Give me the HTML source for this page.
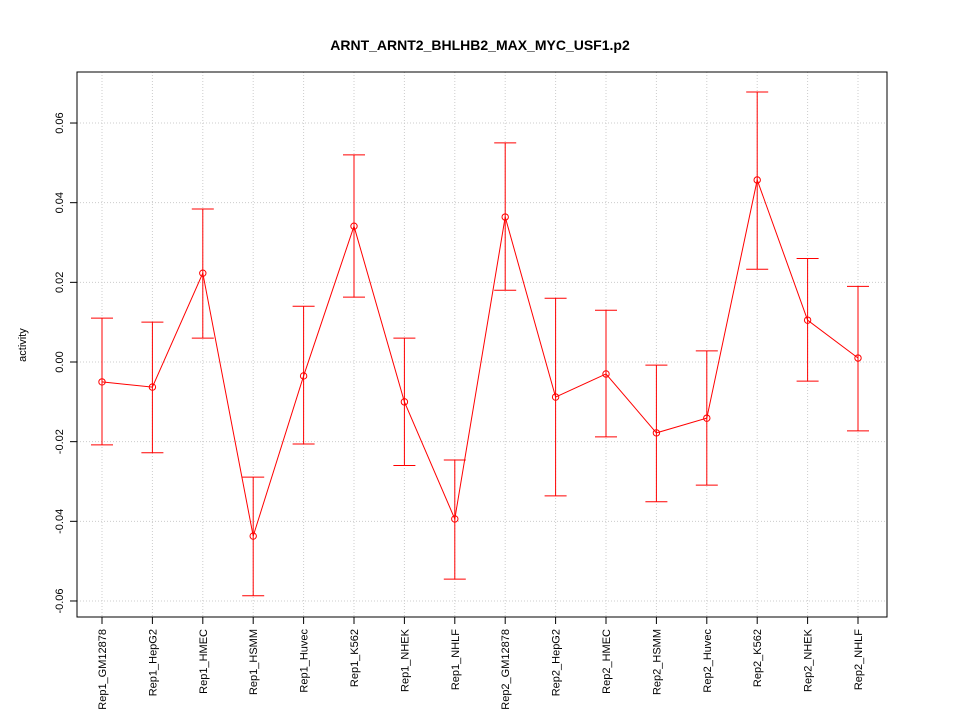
<!DOCTYPE html>
<html><head><meta charset="utf-8"><style>body{margin:0;background:#fff}svg{display:block;font-family:"Liberation Sans",sans-serif}</style></head>
<body>
<svg id="chart" width="960" height="720"></svg>
<script>
const categories=["Rep1_GM12878","Rep1_HepG2","Rep1_HMEC","Rep1_HSMM","Rep1_Huvec","Rep1_K562","Rep1_NHEK","Rep1_NHLF","Rep2_GM12878","Rep2_HepG2","Rep2_HMEC","Rep2_HSMM","Rep2_Huvec","Rep2_K562","Rep2_NHEK","Rep2_NHLF"];
const values=[-0.005,-0.0063,0.0223,-0.0437,-0.0035,0.0341,-0.010,-0.0394,0.0364,-0.0088,-0.003,-0.0178,-0.0141,0.0457,0.0105,0.001];
const upper=[0.011,0.010,0.0384,-0.0289,0.014,0.052,0.006,-0.0246,0.055,0.016,0.013,-0.0008,0.0028,0.0678,0.026,0.019];
const lower=[-0.0208,-0.0228,0.006,-0.0587,-0.0206,0.0163,-0.026,-0.0545,0.018,-0.0336,-0.0188,-0.0351,-0.0309,0.0233,-0.0048,-0.0173];
const yTicks=[-0.06,-0.04,-0.02,0.00,0.02,0.04,0.06];
const yTickLabels=["-0.06","-0.04","-0.02","0.00","0.02","0.04","0.06"];
const svg=document.getElementById('chart');const NS="http://www.w3.org/2000/svg";
function mk(t,a,p){const e=document.createElementNS(NS,t);for(const k in a)e.setAttribute(k,a[k]);(p||svg).appendChild(e);return e;}
const L=77,R=887,T=72,B=617;
const x=i=>102+i*(858-102)/(categories.length-1);
const y=v=>362-v*3983;
let e;
e=mk('text',{x:480,y:50,'text-anchor':'middle','font-size':14,'font-weight':'bold'});e.textContent="ARNT_ARNT2_BHLHB2_MAX_MYC_USF1.p2";


yTicks.forEach((v,i)=>{
 e=mk('line',{x1:L,x2:R,y1:y(v),y2:y(v),stroke:'#ccc','stroke-dasharray':'1,2'});
 
 
 mk('line',{x1:L-7,x2:L,y1:y(v),y2:y(v),stroke:'#000'});
 e=mk('text',{x:L-14,y:y(v),'text-anchor':'middle','font-size':11,transform:`rotate(-90 ${L-14} ${y(v)})`});e.textContent=yTickLabels[i];
 
 
});
categories.forEach((c,i)=>{
 e=mk('line',{x1:x(i),x2:x(i),y1:T,y2:B,stroke:'#ccc','stroke-dasharray':'1,2'});
 
 
 mk('line',{x1:x(i),x2:x(i),y1:B,y2:B+7,stroke:'#000'});
 e=mk('text',{x:x(i)+4,y:B+12,'text-anchor':'end','font-size':11,transform:`rotate(-90 ${x(i)+4} ${B+12})`});e.textContent=c;
 
 
});
e=mk('rect',{x:L,y:T,width:R-L,height:B-T,fill:'none',stroke:'#000'});


e=mk('text',{x:26,y:345,'text-anchor':'middle','font-size':11,transform:'rotate(-90 26 345)'});e.textContent="activity";


e=mk('polyline',{points:values.map((v,i)=>x(i)+','+y(v)).join(' '),fill:'none',stroke:'#f00'});


values.forEach((v,i)=>{
 const g=mk('g',{stroke:'#f00',fill:'none'});
 
 
 mk('line',{x1:x(i),x2:x(i),y1:y(upper[i]),y2:y(lower[i])},g);
 mk('line',{x1:x(i)-11,x2:x(i)+11,y1:y(upper[i]),y2:y(upper[i])},g);
 mk('line',{x1:x(i)-11,x2:x(i)+11,y1:y(lower[i]),y2:y(lower[i])},g);
 e=mk('circle',{cx:x(i),cy:y(v),r:3.2,fill:'none',stroke:'#f00'});
 
 
});
</script>
</body></html>
